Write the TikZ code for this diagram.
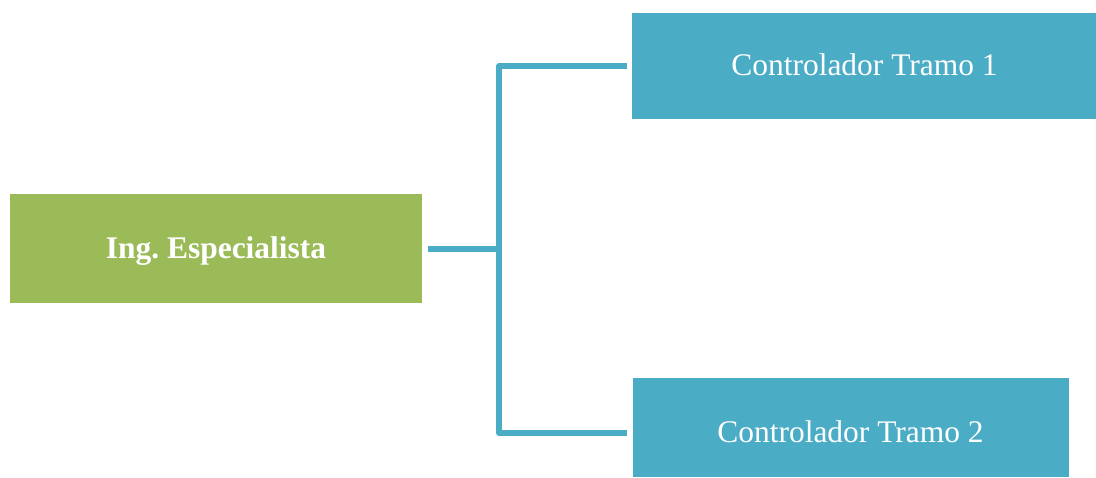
\documentclass[tikz,border=0pt]{standalone}
\usepackage{fontspec}
\setmainfont{Liberation Serif}
\frenchspacing
\definecolor{leafgreen}{HTML}{9BBB59}
\definecolor{teal}{HTML}{4BACC6}
\begin{document}
\begin{tikzpicture}[x=0.75pt,y=-0.75pt,
  box/.style={rectangle, draw=none, inner sep=0pt},
  lbl/.style={anchor=base, inner sep=0pt, text=white,
    font=\fontsize{23.6pt}{28pt}\selectfont},
  conn/.style={draw=teal, line width=3.9pt, line join=round}]
\useasboundingbox (0,0) rectangle (1096,478);
% boxes
\node[box, fill=leafgreen, minimum width=309pt, minimum height=81.75pt] (g) at (216,248.5) {};
\node[box, fill=teal, minimum width=348pt, minimum height=79.5pt] (b1) at (864,66) {};
\node[box, fill=teal, minimum width=327pt, minimum height=73.9pt] (b2) at (851,427.75) {};
% labels
\node[lbl, font=\fontsize{23.6pt}{28pt}\selectfont\bfseries] (gt) at (216,258) {Ing.\ Especialista};
\node[lbl] (b1t) at (864.5,76) {Controlador Tramo 1};
\node[lbl] (b2t) at (850.5,442) {Controlador Tramo 2};
% bracket connector
\coordinate (j) at (499,249);
\coordinate (e1) at (627,66);
\coordinate (e2) at (627,433);
\draw[conn] ([xshift=4.5pt]j -| g.east) -- (j);
\draw[conn] (e1) -| (j) |- (e2);
\end{tikzpicture}
\end{document}
